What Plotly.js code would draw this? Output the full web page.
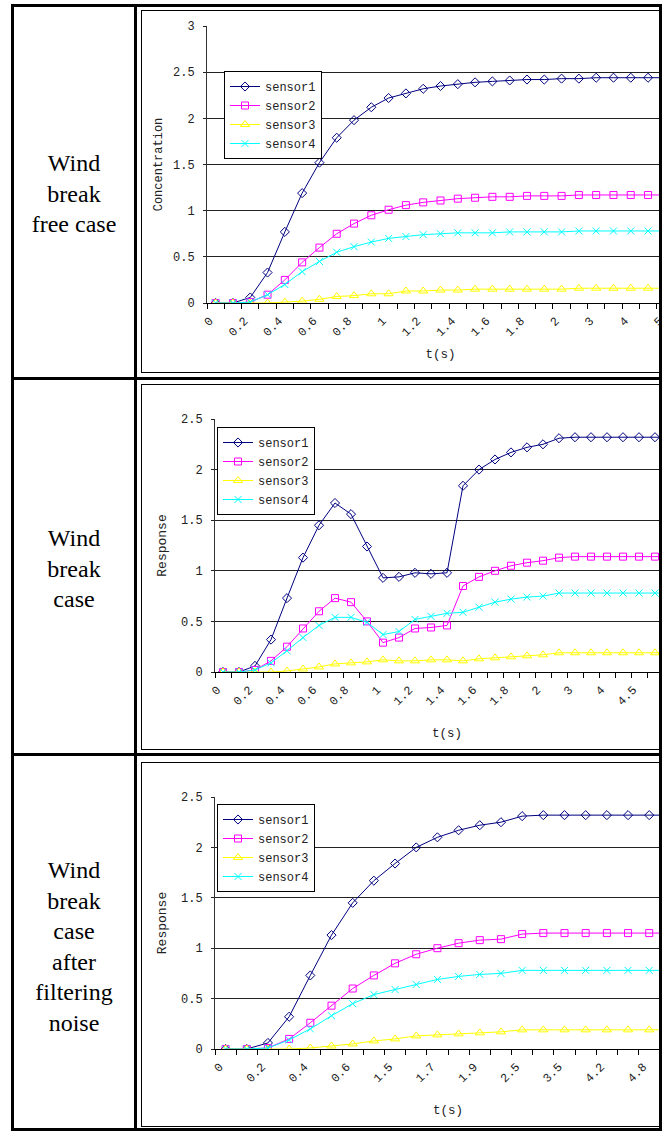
<!DOCTYPE html>
<html>
<head>
<meta charset="utf-8">
<script src="https://cdn.plot.ly/plotly-3.0.1.min.js"></script>
<style>
  html, body { margin: 0; padding: 0; background: #fff; }
  body { width: 662px; height: 1131px; overflow: hidden; position: relative; }
  .line { position: absolute; background: #000; z-index: 10; }
  .box { position: absolute; border: 1px solid #000; overflow: hidden; background: #fff; }
  .label { position: absolute; left: 14px; width: 120px; text-align: center;
           font-family: "Liberation Serif", "Times New Roman", serif; font-size: 24px;
           line-height: 30.5px; color: #000; }
</style>
</head>
<body>

<div class="label" style="top:148px;">Wind<br>break<br>free case</div>
<div class="label" style="top:523px;">Wind<br>break<br>case</div>
<div class="label" style="top:855px;">Wind<br>break<br>case<br>after<br>filtering<br>noise</div>

<div class="box" style="left:141px; top:10px; width:600px; height:361px;"><div id="c1"></div></div>
<div class="box" style="left:141px; top:384px; width:600px; height:364px;"><div id="c2"></div></div>
<div class="box" style="left:141px; top:762px; width:600px; height:363px;"><div id="c3"></div></div>

<!-- table borders -->
<div class="line" style="left:11px; top:4px; width:651px; height:3px;"></div>
<div class="line" style="left:11px; top:377px; width:651px; height:3px;"></div>
<div class="line" style="left:11px; top:753px; width:651px; height:3px;"></div>
<div class="line" style="left:11px; top:1128px; width:651px; height:3px;"></div>
<div class="line" style="left:11px; top:4px; width:3px; height:1127px;"></div>
<div class="line" style="left:134px; top:4px; width:3px; height:1127px;"></div>
<div class="line" style="left:659px; top:4px; width:3px; height:1127px;"></div>

<script>
// ---------- data ----------
const seriesNames = ["sensor1", "sensor2", "sensor3", "sensor4"];

// Chart 1: wind break free case (x categories in seconds)
const cats1 = ["0","0.1","0.2","0.3","0.4","0.5","0.6","0.7","0.8","0.9","1","1.1","1.2","1.3","1.4","1.5","1.6","1.7","1.8","1.9","2","2.5","3","3.5","4","4.5","5"];
const s1_c1 = [0,0,0.06,0.33,0.77,1.19,1.52,1.79,1.98,2.12,2.22,2.27,2.32,2.35,2.37,2.39,2.40,2.41,2.42,2.42,2.43,2.43,2.44,2.44,2.44,2.44,2.44];
const s2_c1 = [0,0,0.01,0.09,0.25,0.44,0.60,0.75,0.86,0.95,1.01,1.06,1.09,1.11,1.13,1.14,1.15,1.15,1.16,1.16,1.16,1.17,1.17,1.17,1.17,1.17,1.17];
const s3_c1 = [0,0,0,0,0.01,0.02,0.04,0.07,0.08,0.10,0.10,0.13,0.13,0.14,0.14,0.15,0.15,0.15,0.15,0.15,0.15,0.16,0.16,0.16,0.16,0.16,0.16];
const s4_c1 = [0,0,0.01,0.09,0.20,0.34,0.45,0.55,0.61,0.66,0.70,0.72,0.74,0.75,0.76,0.76,0.76,0.77,0.77,0.77,0.77,0.78,0.78,0.78,0.78,0.78,0.78];

// Chart 2: wind break case
const cats2 = ["0","0.1","0.2","0.3","0.4","0.5","0.6","0.7","0.8","0.9","1","1.1","1.2","1.3","1.4","1.5","1.6","1.7","1.8","1.9","2","2.5","3","3.5","4","4.25","4.5","4.75","5"];
const s1_c2 = [0,0,0.06,0.32,0.73,1.13,1.45,1.67,1.56,1.24,0.93,0.94,0.98,0.97,0.98,1.84,2.00,2.10,2.17,2.22,2.25,2.31,2.32,2.32,2.32,2.32,2.32,2.32,2.32];
const s2_c2 = [0,0,0.02,0.11,0.25,0.43,0.60,0.73,0.69,0.50,0.29,0.34,0.43,0.44,0.46,0.85,0.94,1.00,1.05,1.08,1.10,1.13,1.14,1.14,1.14,1.14,1.14,1.14,1.14];
const s3_c2 = [0,0,0,0,0.01,0.03,0.05,0.08,0.09,0.10,0.12,0.11,0.11,0.12,0.12,0.11,0.13,0.14,0.15,0.16,0.17,0.19,0.19,0.19,0.19,0.19,0.19,0.19,0.19];
const s4_c2 = [0,0,0.02,0.09,0.21,0.34,0.46,0.54,0.54,0.49,0.37,0.40,0.52,0.55,0.58,0.59,0.64,0.69,0.72,0.74,0.75,0.78,0.78,0.78,0.78,0.78,0.78,0.78,0.78];

// Chart 3: wind break case after filtering noise
const cats3 = ["0","0.1","0.2","0.3","0.4","0.5","0.6","1","1.5","1.6","1.7","1.8","1.9","2","2.5","3","3.5","4","4.2","4.5","4.8","5"];
const s1_c3 = [0,0,0.06,0.32,0.73,1.13,1.45,1.67,1.84,2.00,2.10,2.17,2.22,2.25,2.31,2.32,2.32,2.32,2.32,2.32,2.32,2.32];
const s2_c3 = [0,0,0.01,0.10,0.26,0.43,0.60,0.73,0.85,0.94,1.00,1.05,1.08,1.09,1.14,1.15,1.15,1.15,1.15,1.15,1.15,1.15];
const s3_c3 = [0,0,0,0,0.01,0.03,0.05,0.08,0.10,0.13,0.14,0.15,0.16,0.17,0.19,0.19,0.19,0.19,0.19,0.19,0.19,0.19];
const s4_c3 = [0,0,0.01,0.09,0.20,0.33,0.45,0.54,0.59,0.64,0.69,0.72,0.74,0.75,0.78,0.78,0.78,0.78,0.78,0.78,0.78,0.78];

// ---------- styles ----------
const FONT = '"Liberation Mono", "DejaVu Sans Mono", monospace';
const styles = [
  {color: "#000080", symbol: "diamond-open", size: 7},
  {color: "#FF00FF", symbol: "square-open", size: 7},
  {color: "#FFFF00", symbol: "triangle-up-open", size: 8},
  {color: "#00FFFF", symbol: "x-thin-open", size: 7}
];

function makeChart(id, cats, series, yMax, yTitle, yTitleSize, dims) {
  const idx = cats.map((c, i) => i);
  const tickvals = idx.filter(i => i % 2 === 0);
  const ticktext = tickvals.map(i => cats[i]);
  const pw = dims.w - dims.l - dims.r, ph = dims.h - dims.t - dims.b;
  const traces = series.map((ys, k) => ({
    type: "scatter", mode: "lines+markers", name: seriesNames[k],
    x: idx, y: ys, cliponaxis: true,
    line: {color: styles[k].color, width: 1},
    marker: {symbol: styles[k].symbol, size: styles[k].size, color: styles[k].color,
             line: {color: styles[k].color, width: 1}}
  }));
  const layout = {
    width: dims.w, height: dims.h,
    margin: {l: dims.l, r: dims.r, t: dims.t, b: dims.b, pad: 0, autoexpand: false},
    paper_bgcolor: "#fff", plot_bgcolor: "#fff",
    font: {family: FONT, size: 12, color: "#222"},
    showlegend: true,
    legend: {x: (dims.lx - dims.l) / pw, y: 1 - (dims.ly - dims.t) / ph,
             xanchor: "left", yanchor: "top", bgcolor: "#fff", bordercolor: "#000", borderwidth: 1,
             font: {family: FONT, size: 12, color: "#222"}, tracegroupgap: 0, itemwidth: 30},
    xaxis: {
      range: [-0.5, cats.length - 0.5], tickmode: "array", tickvals: tickvals, ticktext: ticktext,
      tickangle: -45, ticks: "", showgrid: false, zeroline: false,
      showline: true, linecolor: "#000", linewidth: 1, automargin: false,
      ticklabelstandoff: 5, ticklabelshift: -6,
      tickfont: {family: FONT, size: 12, color: "#222"},
      minor: {tickmode: "linear", tick0: -0.5, dtick: 1, ticks: "outside", ticklen: 5,
              tickcolor: "#000", tickwidth: 1, showgrid: false},
      title: {text: "t(s)", font: {family: FONT, size: 12.5, color: "#222"}, standoff: dims.xs},
      fixedrange: true
    },
    yaxis: {
      range: [0, yMax], tickmode: "linear", tick0: 0, dtick: 0.5,
      ticks: "outside", ticklen: 3, tickcolor: "#222",
      showgrid: true, gridcolor: "#222", gridwidth: 1, zeroline: false,
      showline: true, linecolor: "#333", linewidth: 1, automargin: false,
      ticklabelstandoff: 6,
      tickfont: {family: FONT, size: 12, color: "#222"},
      title: {text: yTitle, font: {family: FONT, size: yTitleSize, color: "#222"}, standoff: dims.ys},
      fixedrange: true
    }
  };
  Plotly.newPlot(id, traces, layout, {staticPlot: true, displayModeBar: false});
}

makeChart("c1", cats1, [s1_c1, s2_c1, s3_c1, s4_c1], 3, "Concentration", 12,
  {w: 600, h: 361, l: 65, r: 68, t: 15, b: 69, lx: 82, ly: 60, xs: 10, ys: 7});
makeChart("c2", cats2, [s1_c2, s2_c2, s3_c2, s4_c2], 2.5, "Response", 13,
  {w: 600, h: 364, l: 73, r: 63, t: 34, b: 77, lx: 75, ly: 42, xs: 20, ys: 11});
makeChart("c3", cats3, [s1_c3, s2_c3, s3_c3, s4_c3], 2.5, "Response", 13,
  {w: 600, h: 363, l: 73, r: 61, t: 34, b: 77, lx: 75, ly: 41, xs: 20, ys: 11});
</script>
</body>
</html>
